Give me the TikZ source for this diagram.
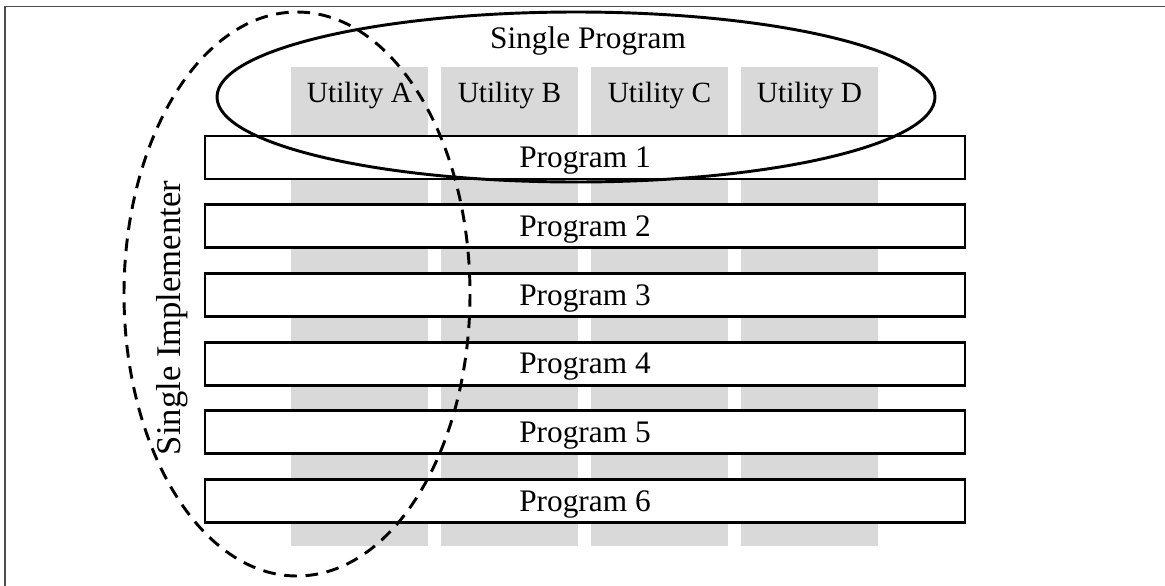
\documentclass[tikz,border=0pt]{standalone}
\usepackage{fontspec}
\setmainfont{Liberation Serif}
\begin{document}
\begin{tikzpicture}[x=0.75pt,y=-0.75pt,
  col/.style={fill=black!15,draw=none,minimum width=102.75pt,minimum height=359.25pt,inner sep=0pt},
  prog/.style={draw=black,fill=white,line width=2.2pt,minimum width=570pt,minimum height=32.25pt,inner sep=0pt,text depth=0pt,font=\fontsize{23.5}{27}\selectfont},
  lbl/.style={font=\fontsize{22}{26}\selectfont,inner sep=0pt,text depth=0pt},
  solidell/.style={draw=black,line width=2.2pt},
  dashell/.style={draw=black,line width=2.2pt,dash pattern=on 9.5pt off 6.5pt}]
\useasboundingbox (0,0) rectangle (1165,586);
\draw[line width=1.4pt,draw=black!70] (5,586) -- (5,6.5) -- (1165,6.5);
% utility columns
\node[col] (colA) at (359.5,306.5) {};
\node[col] (colB) at (509.5,306.5) {};
\node[col] (colC) at (659.5,306.5) {};
\node[col] (colD) at (809.5,306.5) {};
\node[lbl] (uA) at (359.5,92) {Utility A};
\node[lbl] (uB) at (509.5,92) {Utility B};
\node[lbl] (uC) at (659.5,92) {Utility C};
\node[lbl] (uD) at (809.5,92) {Utility D};
% programs
\foreach \i in {1,...,6}{
  \node[prog] (p\i) at (585,{157.5+68.7*(\i-1)}) {Program \i};
}
% single program ellipse
\coordinate (spc) at (576,97);
\draw[solidell] (spc) ellipse [x radius=359, y radius=85];
\node[lbl,font=\fontsize{23.5}{27}\selectfont] (sp) at (588,37.5) {Single Program};
% single implementer ellipse
\coordinate (sic) at (297,294);
\draw[dashell] (sic) ellipse [x radius=173, y radius=282];
\node[lbl,rotate=90,font=\fontsize{26}{30}\selectfont] (si) at (168,318) {Single Implementer};
\end{tikzpicture}
\end{document}
